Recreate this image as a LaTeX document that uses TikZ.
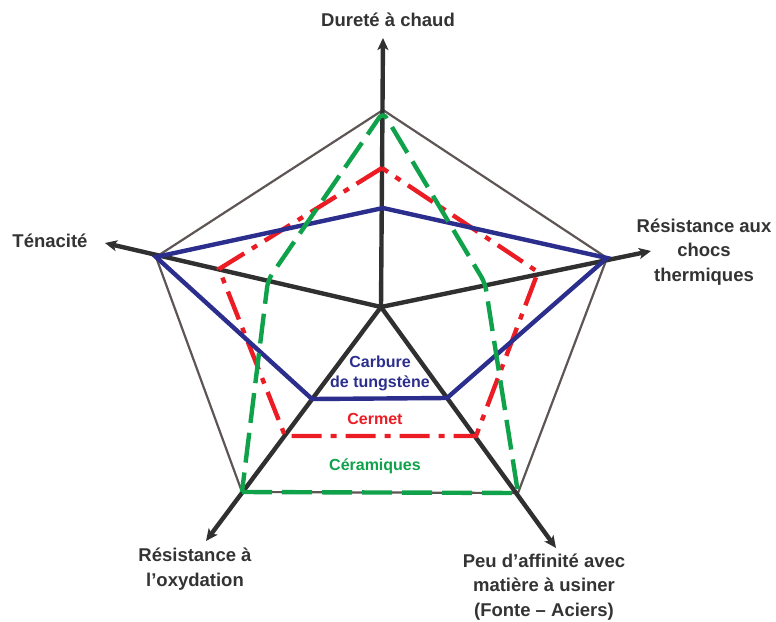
\documentclass[tikz,border=0pt]{standalone}
\usepackage{fontspec}
\setmainfont{Liberation Sans}
\usetikzlibrary{arrows.meta}
\definecolor{axisgray}{HTML}{303030}
\definecolor{outlinegray}{HTML}{5E5654}
\definecolor{txtgray}{HTML}{333333}
\definecolor{wcblue}{HTML}{2B2E8C}
\definecolor{cermetred}{HTML}{EC1C24}
\definecolor{ceramgreen}{HTML}{0FA24B}
\tikzset{
  axisline/.style={draw=axisgray, line width=4.4pt, -{Stealth[length=12pt,width=11pt,inset=3pt]}},
  outline/.style={draw=outlinegray, line width=2.2pt, line join=miter},
  wcline/.style={draw=wcblue, line width=4.4pt, line join=miter},
  cermetline/.style={draw=cermetred, line width=4.4pt, dash pattern=on 30pt off 9pt on 6pt off 9pt},
  ceramline/.style={draw=ceramgreen, line width=4.4pt, dash pattern=on 30pt off 10pt},
  axislabel/.style={text=txtgray, font=\fontsize{18.5}{24.5}\selectfont\bfseries, align=center, inner sep=0pt},
  serieslabel/.style={font=\fontsize{16}{20}\selectfont\bfseries, align=center, inner sep=0pt}
}
\begin{document}
\begin{tikzpicture}[x=1pt,y=-1pt]
\useasboundingbox (0,0) rectangle (776,621);
% centre and axis tips
\coordinate (C) at (381,307);
\coordinate (tT) at (383,38);
\coordinate (tL) at (105,243);
\coordinate (tR) at (651,251);
\coordinate (tBL) at (206,541);
\coordinate (tBR) at (556,548);
% outer pentagon
\coordinate (o1) at (383,110);
\coordinate (o2) at (156,257);
\coordinate (o3) at (242,492);
\coordinate (o4) at (518,493);
\coordinate (o5) at (607,258);
% tungsten carbide
\coordinate (b1) at (383,208);
\coordinate (b2) at (156,257);
\coordinate (b3) at (312,399);
\coordinate (b4) at (447,398);
\coordinate (b5) at (607,258);
% cermet
\coordinate (r1) at (382,168);
\coordinate (r2) at (219,269);
\coordinate (r3) at (285,436);
\coordinate (r4) at (476,436);
\coordinate (r5) at (538,272);
% ceramics
\coordinate (g1) at (383,112);
\coordinate (g2) at (268,280);
\coordinate (g3) at (242,492);
\coordinate (g4) at (518,493);
\coordinate (g5) at (485,283);

\draw[outline] (o1) -- (o2) -- (o3) -- (o4) -- (o5) -- cycle;

\draw[axisline] (C) -- (tT);
\draw[axisline] (C) -- (tL);
\draw[axisline] (C) -- (tR);
\draw[axisline] (C) -- (tBL);
\draw[axisline] (C) -- (tBR);

\draw[cermetline] (r1) -- (r2) -- (r3) -- (r4) -- (r5) -- cycle;
\draw[wcline] (b1) -- (b2) -- (b3) -- (b4) -- (b5) -- cycle;
\draw[ceramline] (g3) -- (g4) [rounded corners=7pt] -- (g5) -- (g1) -- (g2) -- (g3);

\node[axislabel] (lT) at (388,20) {Dureté à chaud};
\node[axislabel] (lL) at (50,241) {Ténacité};
\node[axislabel] (lR) at (704,252) {Résistance aux\\chocs\\thermiques};
\node[axislabel] (lBL) at (195,569) {Résistance à\\l’oxydation};
\node[axislabel] (lBR) at (544,587) {Peu d’affinité avec\\matière à usiner\\(Fonte – Aciers)};

\node[serieslabel, text=wcblue] (sB) at (380,373) {Carbure\\de tungstène};
\node[serieslabel, text=cermetred] (sR) at (375,419) {Cermet};
\node[serieslabel, text=ceramgreen] (sG) at (375,466) {Céramiques};
\end{tikzpicture}
\end{document}
